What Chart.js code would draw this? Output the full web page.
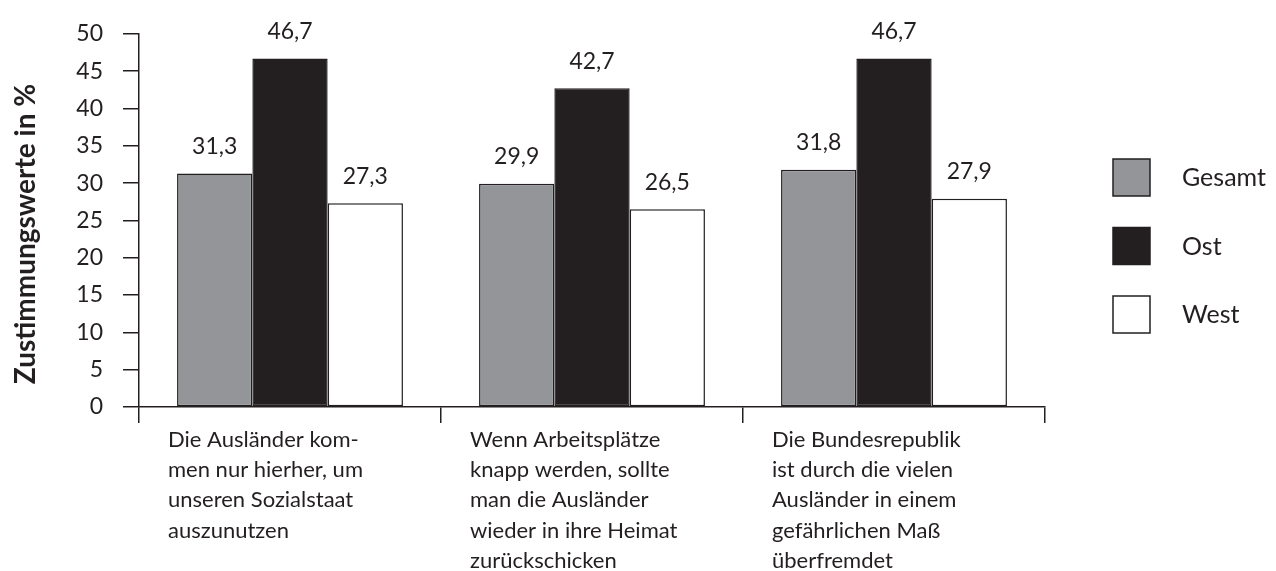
<!DOCTYPE html>
<html>
<head>
<meta charset="utf-8">
<script src="https://cdn.jsdelivr.net/npm/chart.js@4.4.1/dist/chart.umd.min.js"></script>
<style>
  html, body { margin: 0; padding: 0; background: #fff; }
  #wrap { width: 1276px; height: 571px; }
</style>
</head>
<body>
<div id="wrap"><canvas id="chart" width="1276" height="571"></canvas></div>
<script>
const categories = [
    ["Die Ausländer kom-", "men nur hierher, um", "unseren Sozialstaat", "auszunutzen"],
    ["Wenn Arbeitsplätze", "knapp werden, sollte", "man die Ausländer", "wieder in ihre Heimat", "zurückschicken"],
    ["Die Bundesrepublik", "ist durch die vielen", "Ausländer in einem", "gefährlichen Maß", "überfremdet"]
];
const seriesNames = ["Gesamt", "Ost", "West"];
const gesamtValues = [31.3, 29.9, 31.8];
const ostValues = [46.7, 42.7, 46.7];
const westValues = [27.3, 26.5, 27.9];
const yTicks = [0, 5, 10, 15, 20, 25, 30, 35, 40, 45, 50];

const ink = '#231f20';
const fontFamily = 'Lato, "Open Sans", sans-serif';

function fmt(v) {
    return v.toFixed(1).replace('.', ',');
}

// value labels above the bars
const valueLabels = {
    id: 'valueLabels',
    afterDatasetsDraw(chart) {
        const ctx = chart.ctx;
        ctx.save();
        ctx.fillStyle = ink;
        ctx.font = '23px ' + fontFamily;
        ctx.textAlign = 'center';
        ctx.textBaseline = 'middle';
        chart.data.datasets.forEach((ds, i) => {
            chart.getDatasetMeta(i).data.forEach((bar, j) => {
                ctx.fillText(fmt(ds.data[j]), bar.x, bar.y - 27);
            });
        });
        ctx.restore();
    }
};

// legend on the right, boxes and names
const sideLegend = {
    id: 'sideLegend',
    afterDraw(chart) {
        const ctx = chart.ctx;
        ctx.save();
        ctx.font = '25px ' + fontFamily;
        ctx.textBaseline = 'middle';
        chart.data.datasets.forEach((ds, i) => {
            const y = 159 + i * 68.5;
            ctx.fillStyle = ds.backgroundColor;
            ctx.fillRect(1113, y, 37, 37);
            ctx.strokeStyle = ink;
            ctx.lineWidth = 1.5;
            ctx.strokeRect(1113, y, 37, 37);
            ctx.fillStyle = ink;
            ctx.fillText(ds.label, 1182, y + 19);
        });
        ctx.restore();
    }
};

const barData = {
    labels: categories,
    datasets: [
        { label: seriesNames[0], data: gesamtValues, backgroundColor: '#939598' },
        { label: seriesNames[1], data: ostValues, backgroundColor: '#231f20' },
        { label: seriesNames[2], data: westValues, backgroundColor: '#ffffff' }
    ]
};
barData.datasets.forEach(ds => {
    ds.borderColor = ink;
    ds.borderWidth = 1.5;
    ds.borderSkipped = false;
    ds.barPercentage = 1.0;
    ds.categoryPercentage = 0.748;
});

const config = {
    type: 'bar',
    data: barData,
    options: {
        responsive: false,
        animation: false,
        layout: { padding: { left: 0, right: 231, top: 30, bottom: 0 } },
        plugins: {
            legend: { display: false },
            tooltip: { enabled: false }
        },
        scales: {
            x: {
                offset: true,
                grid: {
                    drawOnChartArea: false,
                    drawTicks: true,
                    tickLength: 16,
                    color: ink,
                    lineWidth: 1.5
                },
                border: { color: ink, width: 1.5 },
                ticks: {
                    color: ink,
                    font: { family: fontFamily, size: 22, lineHeight: 1.37 },
                    align: 'start',
                    labelOffset: -122,
                    padding: 2,
                    maxRotation: 0,
                    autoSkip: false
                },
                afterFit(scale) { scale.height = 164; }
            },
            y: {
                min: 0,
                max: 50,
                afterBuildTicks(scale) {
                    scale.ticks = yTicks.map(v => ({ value: v }));
                },
                grid: {
                    drawOnChartArea: false,
                    tickLength: 16,
                    color: ink,
                    lineWidth: 1.5
                },
                border: { color: ink, width: 1.5 },
                ticks: {
                    color: ink,
                    font: { family: fontFamily, size: 23 },
                    padding: 20
                },
                title: {
                    display: true,
                    text: 'Zustimmungswerte in %\u00A0\u00A0\u00A0\u00A0',
                    color: ink,
                    font: { family: fontFamily, size: 28, weight: 'bold' },
                    padding: { top: 9, bottom: 0 }
                },
                afterFit(scale) { scale.width = 139; }
            }
        }
    },
    plugins: [valueLabels, sideLegend]
};

const chart = new Chart(document.getElementById('chart').getContext('2d'), config);
</script>
</body>
</html>
